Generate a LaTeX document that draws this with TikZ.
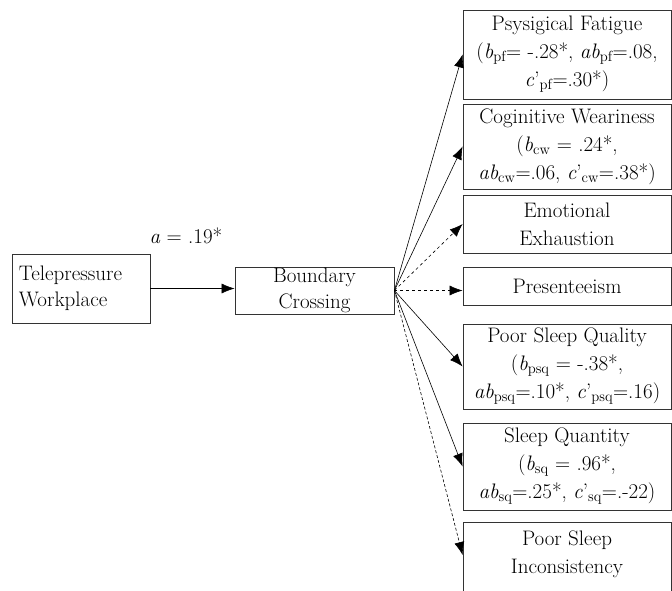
\documentclass[tikz,border=0pt]{standalone}
\usepackage{fontspec}
\usetikzlibrary{arrows.meta}
\begin{document}
\begin{tikzpicture}[x=1pt, y=-1pt,
  every node/.style={font=\fontsize{21}{28}\selectfont},
  box/.style={draw=black!80, line width=0.8pt, inner sep=0pt},
  outbox/.style={box, minimum width=208pt, align=center},
  effect/.style={-{Latex[length=13pt,width=10pt]}, line width=0.6pt},
  weak/.style={effect, dashed}]
\useasboundingbox (0,0) rectangle (672,590);
% predictor and mediator
\node[box, minimum width=138pt, minimum height=69pt, text width=124pt, align=left,
  font=\fontsize{21}{26}\selectfont] (tele) at (81,288.5) {Telepressure\\Workplace};
\node[box, minimum width=159pt, minimum height=47pt, align=center,
  font=\fontsize{21}{26}\selectfont] (bc) at (314.5,290.5) {Boundary\\Crossing};
\node (alabel) at (186,236) {\textit{a} = .19*};
% outcomes
\node[outbox, minimum height=89pt] (pf) at (567,54.5) {Psysigical Fatigue\\(\textit{b}\textsubscript{pf}= -.28*, \textit{ab}\textsubscript{pf}=.08,\\\textit{c}'\textsubscript{pf}=.30*)};
\node[outbox, minimum height=85pt] (cw) at (567,146.5) {Coginitive Weariness\\(\textit{b}\textsubscript{cw} = .24*,\\\textit{ab}\textsubscript{cw}=.06, \textit{c}'\textsubscript{cw}=.38*)};
\node[outbox, minimum height=58pt] (ee) at (567,224) {Emotional\\Exhaustion};
\node[outbox, minimum height=38pt] (pres) at (567,286) {Presenteeism};
\node[outbox, minimum height=85pt] (psq) at (567,366.5) {Poor Sleep Quality\\(\textit{b}\textsubscript{psq} = -.38*,\\\textit{ab}\textsubscript{psq}=.10*, \textit{c}'\textsubscript{psq}=.16)};
\node[outbox, minimum height=87pt] (sq) at (567,466.5) {Sleep Quantity\\(\textit{b}\textsubscript{sq} = .96*,\\\textit{ab}\textsubscript{sq}=.25*, \textit{c}'\textsubscript{sq}=.-22)};
\node[outbox, minimum height=87pt] (psi) at (567,566) {Poor Sleep\\Inconsistency\\\mbox{}};
% paths
\draw[effect] (tele.east) -- (tele.east -| bc.west);
\draw[effect] (bc.east) -- (pf.west);
\draw[effect] (bc.east) -- (cw.west);
\draw[weak] (bc.east) -- (ee.west);
\draw[weak] (bc.east) -- (bc.east -| pres.west);
\draw[effect] (bc.east) -- (psq.west);
\draw[effect] (bc.east) -- (sq.west);
\draw[weak, dash pattern=on 3pt off 2pt] (bc.east) -- ([yshift=11pt]psi.west);
\end{tikzpicture}
\end{document}
